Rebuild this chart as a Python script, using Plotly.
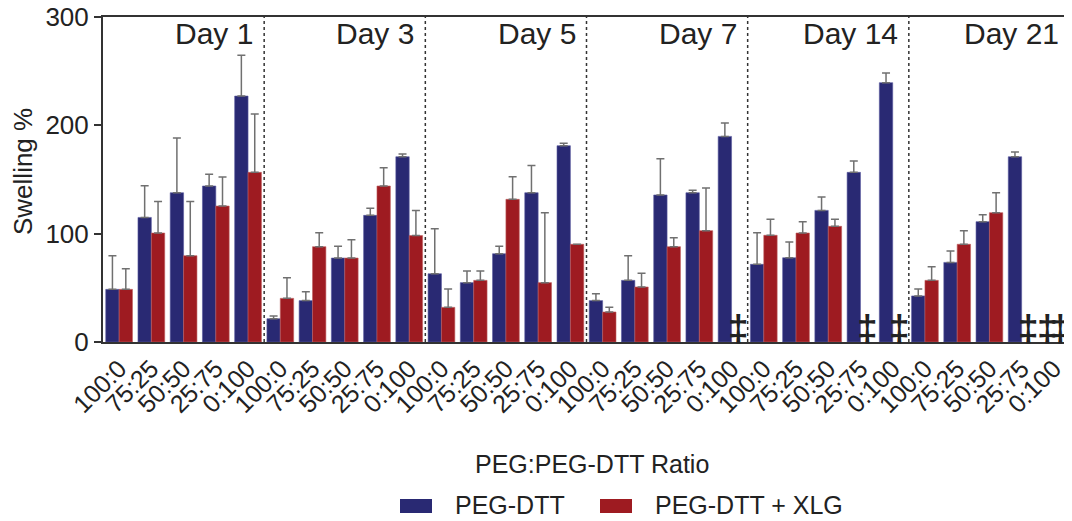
import plotly.graph_objects as go

days = ["Day 1", "Day 3", "Day 5", "Day 7", "Day 14", "Day 21"]
ratios = ["100:0", "75:25", "50:50", "25:75", "0:100"]
series_names = ["PEG-DTT", "PEG-DTT + XLG"]

# PEG-DTT (blue) mean swelling % per day, ratios in order above
peg_dtt = [
    48.6, 115.0, 137.8, 144.0, 227.0,
    21.5, 38.2, 77.5, 116.9, 171.0,
    63.0, 54.8, 81.5, 137.8, 181.2,
    38.2, 56.9, 135.7, 137.8, 189.8,
    71.7, 77.8, 121.5, 156.6, 239.4,
    42.5, 73.5, 111.1, 171.0, None,
]
peg_dtt_err = [
    31.1, 29.3, 50.5, 10.8, 37.6,
    2.5, 8.3, 10.8, 6.5, 2.5,
    41.6, 10.7, 6.8, 25.2, 2.2,
    6.4, 22.8, 33.5, 2.2, 12.4,
    29.2, 14.5, 12.3, 10.5, 8.9,
    6.4, 10.5, 6.4, 4.4, None,
]
# PEG-DTT + XLG (red)
peg_dtt_xlg = [
    48.6, 100.6, 79.7, 125.5, 156.6,
    40.3, 88.0, 77.5, 144.0, 98.2,
    32.0, 56.9, 131.7, 54.8, 90.2,
    27.7, 50.8, 88.0, 102.8, None,
    98.5, 100.6, 106.8, None, None,
    56.9, 90.2, 119.4, None, None,
]
peg_dtt_xlg_err = [
    19.1, 29.2, 50.1, 26.8, 53.9,
    19.1, 12.9, 17.0, 16.9, 23.3,
    16.9, 8.6, 20.9, 64.6, 0.0,
    4.3, 12.6, 8.3, 39.4, None,
    14.7, 10.5, 6.4, None, None,
    12.6, 12.6, 18.4, None, None,
]

BLUE = "#292973"
RED = "#9E1B21"
ERR = "#707070"
TXT = "#222222"
FONT = "Liberation Sans, Arial, sans-serif"

n = len(days) * len(ratios)
xs = list(range(n))
ticktext = ratios * len(days)

fig = go.Figure()
fig.add_trace(go.Bar(
    x=xs, y=peg_dtt, name=series_names[0], showlegend=False,
    marker=dict(color=BLUE, line=dict(color="#5b5ba0", width=0.6)),
    error_y=dict(type="data", array=peg_dtt_err, arrayminus=[0] * n,
                 symmetric=False, color=ERR, thickness=1.5, width=4),
))
fig.add_trace(go.Bar(
    x=xs, y=peg_dtt_xlg, name=series_names[1], showlegend=False,
    marker=dict(color=RED, line=dict(color="#c06060", width=0.6)),
    error_y=dict(type="data", array=peg_dtt_xlg_err, arrayminus=[0] * n,
                 symmetric=False, color=ERR, thickness=1.5, width=4),
))

shapes = []
annotations = []
per = len(ratios)
for d, day in enumerate(days):
    right = d * per + per - 0.5
    if d < len(days) - 1:
        shapes.append(dict(type="line", xref="x", yref="y", x0=right, x1=right,
                           y0=0, y1=300, line=dict(color="#333", width=1.5, dash="dot")))
    annotations.append(dict(x=right, y=285, xref="x", yref="y", text=day,
                            showarrow=False, xanchor="right", yanchor="middle",
                            xshift=-9, font=dict(size=30, color=TXT, family=FONT)))

# missing-value markers (double dagger)
for i in range(n):
    for vals, off in ((peg_dtt, -0.21), (peg_dtt_xlg, 0.21)):
        if vals[i] is None:
            annotations.append(dict(x=i + off, y=0, xref="x", yref="y",
                                    text="<b>‡</b>", showarrow=False,
                                    xanchor="center", yanchor="bottom", yshift=-9,
                                    font=dict(size=37, color=TXT, family=FONT)))

# page pixel -> paper coordinates (plot area spans x 103..1070, y 17..342 on the page)
PL, PR, PT, PB = 103, 1070, 17, 342


def px_x(p):
    return (p - PL) / float(PR - PL)


def px_y(p):
    return (PB - p) / float(PB - PT)


annotations.append(dict(x=px_x(592), y=px_y(464), xref="paper", yref="paper",
                        text="PEG:PEG-DTT Ratio", showarrow=False,
                        xanchor="center", yanchor="middle",
                        font=dict(size=25, color=TXT, family=FONT)))
annotations.append(dict(x=px_x(23), y=px_y(172), xref="paper", yref="paper",
                        text="Swelling %", showarrow=False, textangle=-90,
                        xanchor="center", yanchor="middle",
                        font=dict(size=26, color=TXT, family=FONT)))

# manual legend (wide rectangular patches like the reference)
legend_items = [(400, 453, BLUE), (600, 653, RED)]
for (x0, tx, col), name in zip(legend_items, series_names):
    shapes.append(dict(type="rect", xref="paper", yref="paper",
                       x0=px_x(x0), x1=px_x(x0 + 32), y0=px_y(513), y1=px_y(499),
                       fillcolor=col, line=dict(width=0)))
    annotations.append(dict(x=px_x(tx), y=px_y(505), xref="paper", yref="paper",
                            text=name, showarrow=False, xanchor="left", yanchor="middle",
                            font=dict(size=25, color=TXT, family=FONT)))

# the page body has an 8px margin, so the figure is sized/offset to compensate
OFF = 8
W, H = 1072 - OFF, 521 - OFF
fig.update_layout(
    width=W, height=H,
    margin=dict(l=PL - OFF, r=W - (PR - OFF), t=PT - OFF, b=H - (PB - OFF)),
    paper_bgcolor="white", plot_bgcolor="white",
    barmode="group", bargap=0.17, bargroupgap=0,
    font=dict(family=FONT, color=TXT),
    shapes=shapes, annotations=annotations,
    showlegend=False,
    xaxis=dict(range=[-0.5, n - 0.5], tickmode="array", tickvals=xs, ticktext=ticktext,
               tickangle=-45, tickfont=dict(size=25, color=TXT), showgrid=False,
               showline=True, linecolor="#333", linewidth=2, mirror=True,
               ticks="", zeroline=False, automargin=False, ticklabeloverflow="allow"),
    yaxis=dict(range=[0, 300], tickvals=[0, 100, 200, 300], showgrid=False,
               tickfont=dict(size=26, color=TXT), showline=True, linecolor="#333",
               linewidth=2, mirror=True, ticks="outside", ticklen=7, tickwidth=1.5,
               tickcolor="#333", zeroline=False, automargin=False,
               ticklabeloverflow="allow"),
)

fig.write_html("out.html")
